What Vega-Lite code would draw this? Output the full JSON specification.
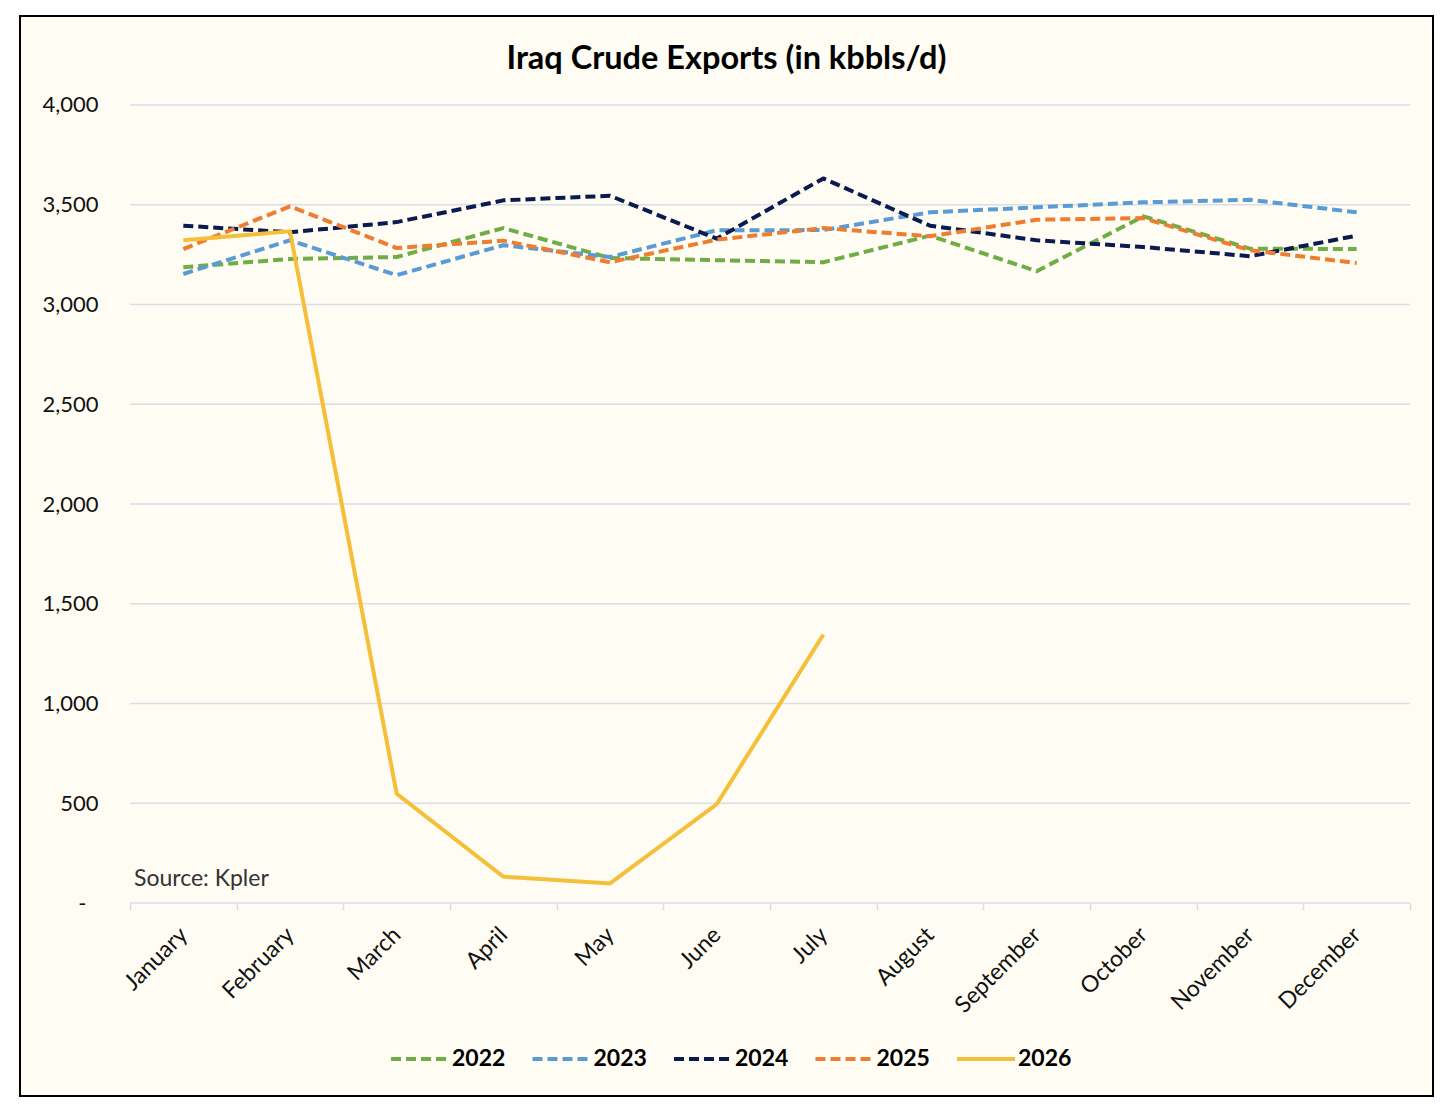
{
  "$schema": "https://vega.github.io/schema/vega-lite/v6.json",
  "width": 1413,
  "height": 1080,
  "autosize": {"type": "none"},
  "padding": {"left": 20, "top": 16, "right": 23, "bottom": 21},
  "background": "#ffffff",
  "datasets": {
    "exports": [
      {"month": "January", "year": "2022", "kbd": 3187},
      {"month": "February", "year": "2022", "kbd": 3228},
      {"month": "March", "year": "2022", "kbd": 3238},
      {"month": "April", "year": "2022", "kbd": 3383},
      {"month": "May", "year": "2022", "kbd": 3233},
      {"month": "June", "year": "2022", "kbd": 3222},
      {"month": "July", "year": "2022", "kbd": 3212},
      {"month": "August", "year": "2022", "kbd": 3345},
      {"month": "September", "year": "2022", "kbd": 3167},
      {"month": "October", "year": "2022", "kbd": 3442},
      {"month": "November", "year": "2022", "kbd": 3280},
      {"month": "December", "year": "2022", "kbd": 3278},
      {"month": "January", "year": "2023", "kbd": 3153},
      {"month": "February", "year": "2023", "kbd": 3322},
      {"month": "March", "year": "2023", "kbd": 3147},
      {"month": "April", "year": "2023", "kbd": 3297},
      {"month": "May", "year": "2023", "kbd": 3238},
      {"month": "June", "year": "2023", "kbd": 3372},
      {"month": "July", "year": "2023", "kbd": 3373},
      {"month": "August", "year": "2023", "kbd": 3462},
      {"month": "September", "year": "2023", "kbd": 3487},
      {"month": "October", "year": "2023", "kbd": 3512},
      {"month": "November", "year": "2023", "kbd": 3525},
      {"month": "December", "year": "2023", "kbd": 3462},
      {"month": "January", "year": "2024", "kbd": 3395},
      {"month": "February", "year": "2024", "kbd": 3362},
      {"month": "March", "year": "2024", "kbd": 3413},
      {"month": "April", "year": "2024", "kbd": 3522},
      {"month": "May", "year": "2024", "kbd": 3545},
      {"month": "June", "year": "2024", "kbd": 3330},
      {"month": "July", "year": "2024", "kbd": 3632},
      {"month": "August", "year": "2024", "kbd": 3395},
      {"month": "September", "year": "2024", "kbd": 3322},
      {"month": "October", "year": "2024", "kbd": 3288},
      {"month": "November", "year": "2024", "kbd": 3242},
      {"month": "December", "year": "2024", "kbd": 3345},
      {"month": "January", "year": "2025", "kbd": 3278},
      {"month": "February", "year": "2025", "kbd": 3492},
      {"month": "March", "year": "2025", "kbd": 3283},
      {"month": "April", "year": "2025", "kbd": 3320},
      {"month": "May", "year": "2025", "kbd": 3212},
      {"month": "June", "year": "2025", "kbd": 3325},
      {"month": "July", "year": "2025", "kbd": 3383},
      {"month": "August", "year": "2025", "kbd": 3342},
      {"month": "September", "year": "2025", "kbd": 3425},
      {"month": "October", "year": "2025", "kbd": 3433},
      {"month": "November", "year": "2025", "kbd": 3272},
      {"month": "December", "year": "2025", "kbd": 3208},
      {"month": "January", "year": "2026", "kbd": 3322},
      {"month": "February", "year": "2026", "kbd": 3367},
      {"month": "March", "year": "2026", "kbd": 548},
      {"month": "April", "year": "2026", "kbd": 132},
      {"month": "May", "year": "2026", "kbd": 98},
      {"month": "June", "year": "2026", "kbd": 495},
      {"month": "July", "year": "2026", "kbd": 1345}
    ],
    "grid": [
      {"level": 0}, {"level": 500}, {"level": 1000}, {"level": 1500}, {"level": 2000},
      {"level": 2500}, {"level": 3000}, {"level": 3500}, {"level": 4000}
    ]
  },
  "layer": [
    {
      "data": {"name": "grid"},
      "mark": {"type": "rule", "color": "#d9dee6", "strokeWidth": 1.5},
      "encoding": {
        "x": {"datum": "January", "type": "nominal", "bandPosition": 0},
        "x2": {"datum": "December", "bandPosition": 1},
        "y": {"field": "level", "type": "quantitative"}
      }
    },
    {
      "data": {"name": "exports"},
      "mark": {"type": "line", "strokeJoin": "round"},
      "encoding": {
        "x": {
          "field": "month",
          "type": "nominal",
          "sort": null,
          "title": null,
          "scale": {
            "type": "band",
            "domain": ["January", "February", "March", "April", "May", "June", "July", "August", "September", "October", "November", "December"],
            "paddingInner": 0,
            "paddingOuter": 0.6234,
            "align": 0.827
          },
          "axis": {
            "orient": "bottom",
            "offset": -193,
            "domain": false,
            "grid": false,
            "ticks": true,
            "tickBand": "extent",
            "tickSize": 7,
            "tickWidth": 1.5,
            "tickColor": "#d9dee6",
            "labelAngle": -45,
            "labelAlign": "right",
            "labelBaseline": "middle",
            "labelPadding": 21,
            "labelFontSize": 23,
            "labelColor": "#111111"
          }
        },
        "y": {
          "field": "kbd",
          "type": "quantitative",
          "title": null,
          "scale": {"domain": [-967.4, 4446.1], "nice": false, "zero": false},
          "axis": {
            "values": [0, 500, 1000, 1500, 2000, 2500, 3000, 3500, 4000],
            "labelExpr": "datum.value == 0 ? '-' : format(datum.value, ',')",
            "offset": -110,
            "domain": false,
            "ticks": false,
            "grid": false,
            "labelPadding": {"condition": {"test": "datum.value == 0", "value": 44}, "value": 32},
            "labelFontSize": 22,
            "labelColor": "#111111"
          }
        },
        "color": {
          "field": "year",
          "type": "nominal",
          "title": null,
          "scale": {
            "domain": ["2022", "2023", "2024", "2025", "2026"],
            "range": ["#70ad47", "#5b9bd5", "#0b1a4f", "#ed7d31", "#f5bf3a"]
          },
          "legend": {
            "orient": "none",
            "legendX": 369,
            "legendY": 1012,
            "direction": "horizontal",
            "symbolType": "stroke",
            "symbolSize": 3364,
            "labelFontSize": 23,
            "labelFontWeight": "bold",
            "labelColor": "#000000",
            "labelOffset": 1,
            "columnPadding": 18.5,
            "padding": 0
          }
        },
        "strokeDash": {
          "field": "year",
          "type": "nominal",
          "scale": {
            "domain": ["2022", "2023", "2024", "2025", "2026"],
            "range": [[10, 5], [10, 5], [10, 5], [10, 5], [1, 0]]
          }
        },
        "strokeWidth": {
          "field": "year",
          "type": "ordinal",
          "scale": {
            "domain": ["2022", "2023", "2024", "2025", "2026"],
            "range": [4, 4, 4, 4, 5]
          }
        }
      }
    },
    {
      "data": {"values": [{"label": "Iraq Crude Exports (in kbbls/d)"}]},
      "mark": {"type": "text", "fontSize": 32.5, "fontWeight": "bold", "color": "#000000", "baseline": "middle"},
      "encoding": {
        "y": {"datum": 4232},
        "text": {"field": "label"}
      }
    },
    {
      "data": {"values": [{"label": "Source: Kpler"}]},
      "mark": {"type": "text", "fontSize": 23, "color": "#333333", "align": "left", "baseline": "middle", "dx": 4},
      "encoding": {
        "x": {"datum": "January", "type": "nominal", "bandPosition": 0},
        "y": {"datum": 120},
        "text": {"field": "label"}
      }
    }
  ],
  "config": {
    "font": "Lato",
    "view": {"stroke": "#000000", "strokeWidth": 2, "fill": "#fefcf3"},
    "axis": {"labelFont": "Lato"},
    "legend": {"labelFont": "Lato"}
  }
}
